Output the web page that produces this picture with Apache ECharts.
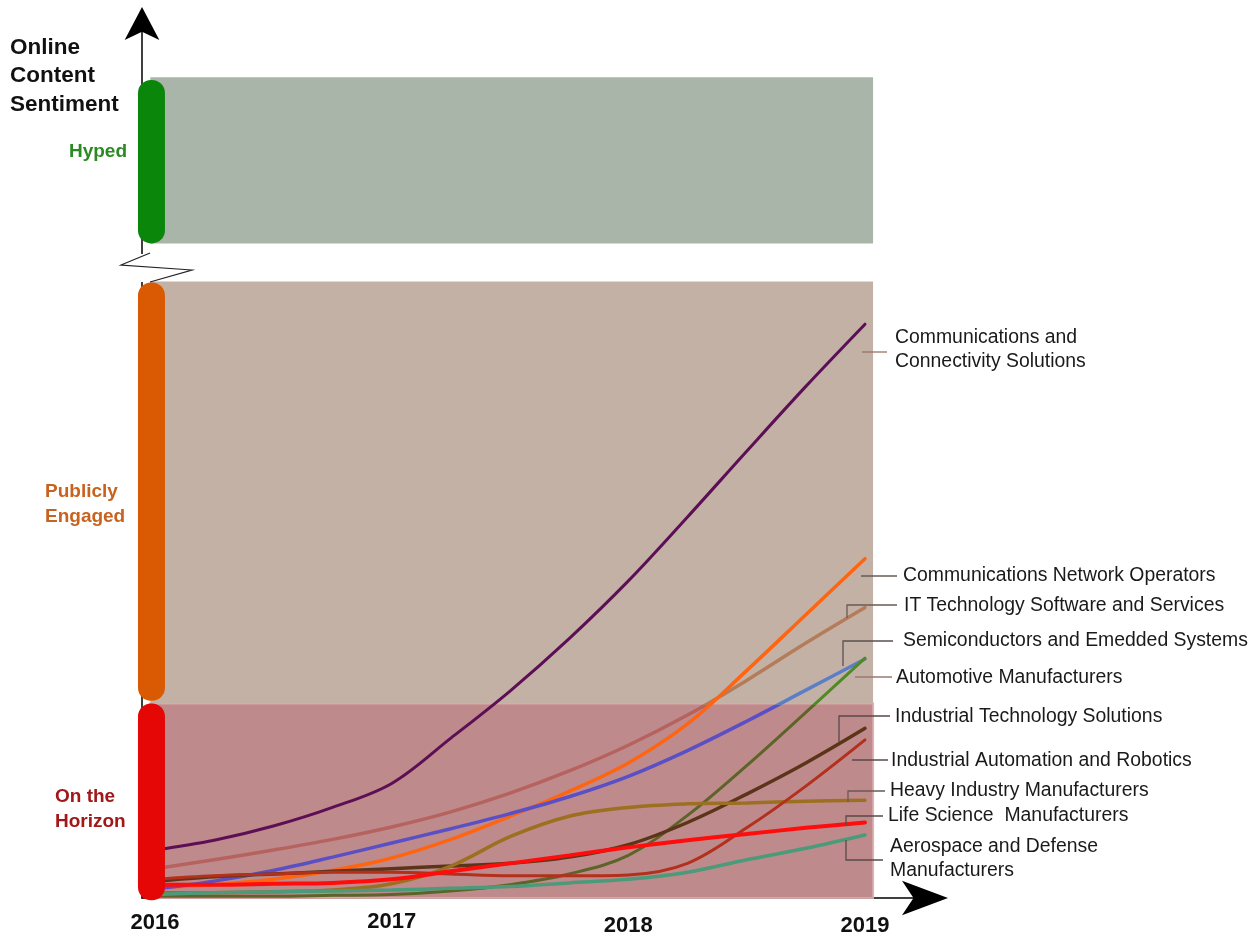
<!DOCTYPE html>
<html><head><meta charset="utf-8">
<script src="https://cdn.jsdelivr.net/npm/echarts@6/dist/echarts.min.js"></script>
<style>html,body{margin:0;padding:0;background:#fff}#c{width:1257px;height:937px}</style>
</head><body><div id="c"></div>
<script>
// ---- data ----
const years = [2016, 2016.25, 2016.5, 2016.75, 2017, 2017.25, 2017.5, 2017.75, 2018, 2018.25, 2018.5, 2018.75, 2019];
const tickYears = [2016, 2017, 2018, 2019];

const commConnectivity = [5.4, 6.5, 8.1, 10.2, 12.9, 18.0, 23.3, 29.2, 35.7, 42.9, 50.3, 57.6, 64.6];
const itSoftware      = [3.3, 4.3, 5.4, 6.6, 8.0, 9.7, 11.8, 14.3, 17.2, 20.6, 24.5, 28.7, 32.7];
const commNetwork     = [1.2, 1.5, 2.1, 3.1, 4.5, 6.6, 9.2, 12.0, 15.2, 19.6, 25.6, 31.9, 38.2];
const semiconductors  = [1.0, 1.9, 3.1, 4.6, 6.2, 7.8, 9.5, 11.4, 13.7, 16.6, 19.9, 23.4, 26.9];
const automotive      = [0.2, 0.2, 0.2, 0.3, 0.4, 0.8, 1.5, 2.7, 4.8, 9.3, 14.9, 20.9, 27.0];
const industrialTech  = [1.9, 2.4, 2.7, 3.0, 3.3, 3.6, 3.9, 4.6, 6.0, 8.5, 11.7, 15.2, 19.1];
const heavyIndustry   = [0.6, 0.6, 0.7, 0.9, 1.6, 3.6, 6.9, 9.2, 10.2, 10.6, 10.7, 10.9, 11.0];
const industrialAuto  = [2.1, 2.5, 2.7, 2.9, 2.9, 2.7, 2.5, 2.5, 2.6, 3.9, 7.9, 12.6, 17.8];
const aerospace       = [0.4, 0.6, 0.7, 0.8, 0.9, 1.1, 1.3, 1.7, 2.1, 2.9, 4.3, 5.6, 7.1];
const lifeScience     = [1.5, 1.5, 1.6, 1.7, 2.1, 3.0, 3.9, 4.8, 5.7, 6.5, 7.2, 7.9, 8.5];

const bandNames = ['On the Horizon', 'Publicly Engaged', 'Hyped'];
const bandLow   = [0, 21.9, 73.7];
const bandHigh  = [21.9, 69.4, 92.4];
const bandStart = 2015.98;
const bandEnd   = 2019.034;
const pillLow   = [-0.25, 22.2, 73.7];
const pillHigh  = [21.9, 69.3, 92.1];
const pillStart = 2015.928;
const pillEnd   = 2016.042;

const lineNames = [
  'Communications and Connectivity Solutions', 'IT Technology Software and Services',
  'Communications Network Operators', 'Semiconductors and Emedded Systems',
  'Automotive Manufacturers', 'Industrial Technology Solutions', 'Heavy Industry Manufacturers',
  'Industrial Automation and Robotics', 'Aerospace and Defense Manufacturers', 'Life Science  Manufacturers'
];
const lineValues = [commConnectivity, itSoftware, commNetwork, semiconductors, automotive,
  industrialTech, heavyIndustry, industrialAuto, aerospace, lifeScience];

// ---- layout / style ----
const W = 1257, H = 937;
const gridLeft = 142, gridTop = 24, gridBottomPx = 900, gridRightPx = 925;
const xMin = 2015.945, xMax = 2019.2535;
const yMin = 0, yMax = 98.4;
const FONT = 'Liberation Sans, Arial, Helvetica, sans-serif';

const bandColors = ['#bf8a8b', '#c4b1a6', '#a8b5a8'];
const bandStrokes = ['rgba(218,170,170,0.9)', null, null];
const pillColors = ['#e50606', '#d95a02', '#0a870a'];

const boundaryPx = gridTop + (yMax - bandHigh[0]) / (yMax - yMin) * (gridBottomPx - gridTop);
const boundaryFrac = boundaryPx / H;
function split(upper, lower) {
  return {type: 'linear', x: 0, y: 0, x2: 0, y2: H, global: true, colorStops: [
    {offset: 0, color: upper}, {offset: boundaryFrac, color: upper},
    {offset: boundaryFrac, color: lower}, {offset: 1, color: lower}]};
}
const lineColors = ['#5c0f55', split('#b47c58', '#b6625f'), '#ff6510', split('#5b7fc6', '#5a4fc4'),
  split('#4f8a25', '#5c6428'), '#5b3519', '#9c7020', '#b3301c', '#4b9a7a', '#ff0c0c'];
const lineWidths = [3, 3.5, 3.5, 3.5, 3, 3.5, 3.5, 3, 3.5, 4];

function rectRender(colors, radius, strokes) {
  return function (params, api) {
    const p0 = api.coord([api.value(0), api.value(3)]);
    const p1 = api.coord([api.value(1), api.value(2)]);
    const st = strokes && strokes[params.dataIndex];
    return {type: 'rect', shape: {x: p0[0], y: p0[1], width: p1[0] - p0[0], height: p1[1] - p0[1], r: radius},
      style: {fill: colors[params.dataIndex], stroke: st || null, lineWidth: st ? 2 : 0}};
  };
}

const series = [];
series.push({type: 'custom', name: 'bands', z: 1, clip: false, silent: true,
  renderItem: rectRender(bandColors, 0, bandStrokes), encode: {x: [0, 1], y: [2, 3]},
  data: bandNames.map((n, i) => [bandStart, bandEnd, bandLow[i], bandHigh[i]])});
lineNames.forEach((n, i) => {
  series.push({type: 'line', name: n, z: 2, smooth: 0.35, showSymbol: false, silent: true,
    lineStyle: {color: lineColors[i], width: lineWidths[i], cap: 'round'},
    data: years.map((y, k) => [y, lineValues[i][k]])});
});
series.push({type: 'custom', name: 'pills', z: 3, clip: false, silent: true,
  renderItem: rectRender(pillColors, 13), encode: {x: [0, 1], y: [2, 3]},
  data: bandNames.map((n, i) => [pillStart, pillEnd, pillLow[i], pillHigh[i]])});

const rightLabels = [
  {t: 'Communications and\nConnectivity Solutions', x: 895, y: 350, lead: [[862, 352], [887, 352]], lc: '#9a7068'},
  {t: 'Communications Network Operators', x: 903, y: 576, lead: [[861, 576], [897, 576]], lc: '#6a5a55'},
  {t: 'IT Technology Software and Services', x: 904, y: 606, lead: [[847, 618], [847, 605], [897, 605]], lc: '#6a5a55'},
  {t: 'Semiconductors and Emedded Systems', x: 903, y: 641, lead: [[843, 666], [843, 641], [893, 641]], lc: '#5a5050'},
  {t: 'Automotive Manufacturers', x: 896, y: 678, lead: [[855, 677], [892, 677]], lc: '#9a7a70'},
  {t: 'Industrial Technology Solutions', x: 895, y: 717, lead: [[839, 742], [839, 716], [890, 716]], lc: '#5a4a48'},
  {t: 'Industrial Automation and Robotics', x: 891, y: 761, lead: [[852, 760], [888, 760]], lc: '#5a4a48'},
  {t: 'Heavy Industry Manufacturers', x: 890, y: 791, lead: [[848, 802], [848, 791], [885, 791]], lc: '#6a5a55'},
  {t: 'Life Science  Manufacturers', x: 888, y: 816, lead: [[846, 825], [846, 816], [883, 816]], lc: '#5a4a48'},
  {t: 'Aerospace and Defense\nManufacturers', x: 890, y: 859, lead: [[846, 840], [846, 860], [883, 860]], lc: '#5a4a48'}
];

const graphic = [];
rightLabels.forEach(l => {
  graphic.push({type: 'polyline', z: 50, shape: {points: l.lead}, style: {stroke: l.lc, lineWidth: 1.3, fill: null}});
  graphic.push({type: 'text', z: 50, x: l.x, y: l.y, style: {text: l.t, font: '19.4px ' + FONT, fill: '#1a1a1a',
    verticalAlign: 'middle', lineHeight: 24}});
});
// left captions
graphic.push({type: 'text', z: 50, x: 10, y: 76, style: {text: 'Online\nContent\nSentiment', font: 'bold 22.5px ' + FONT,
  fill: '#111', verticalAlign: 'middle', lineHeight: 28.5}});
graphic.push({type: 'text', z: 50, x: 127, y: 152, style: {text: 'Hyped', font: 'bold 19px ' + FONT,
  fill: '#2b8a22', align: 'right', verticalAlign: 'middle'}});
graphic.push({type: 'text', z: 50, x: 45, y: 504.5, style: {text: 'Publicly\nEngaged', font: 'bold 19px ' + FONT,
  fill: '#c8621e', verticalAlign: 'middle', lineHeight: 25}});
graphic.push({type: 'text', z: 50, x: 55, y: 809.5, style: {text: 'On the\nHorizon', font: 'bold 19px ' + FONT,
  fill: '#a01818', verticalAlign: 'middle', lineHeight: 25}});
// axis break
graphic.push({type: 'rect', z: 40, shape: {x: 134, y: 254, width: 16, height: 28}, style: {fill: '#fff'}});
graphic.push({type: 'polyline', z: 41, shape: {points: [[150, 253], [121, 265], [192, 270], [150, 282]]},
  style: {stroke: '#222', lineWidth: 1.2, fill: null}});

const yearPad = {2016: 1, 2017: 0, 2018: 4, 2019: 4};
const rich = {};
tickYears.forEach(y => { rich['y' + y] = {fontSize: 22, fontWeight: 'bold', color: '#111', fontFamily: FONT, padding: [yearPad[y], 0, 0, 0]}; });

const chart = echarts.init(document.getElementById('c'), null, {renderer: 'canvas'});
chart.setOption({
  animation: false,
  backgroundColor: '#fff',
  grid: {left: gridLeft, top: gridTop, right: W - gridRightPx, bottom: H - gridBottomPx, containLabel: false},
  xAxis: {type: 'value', min: xMin, max: xMax,
    axisLine: {show: true, lineStyle: {color: '#000', width: 1.5}, symbol: ['none', 'arrow'],
      symbolSize: [26, 46], symbolOffset: [0, 23]},
    axisTick: {show: false}, splitLine: {show: false},
    axisLabel: {customValues: tickYears, margin: 13, verticalAlign: 'top',
      formatter: v => '{y' + v + '|' + v + '}', rich: rich}},
  yAxis: {type: 'value', min: yMin, max: yMax,
    axisLine: {show: true, lineStyle: {color: '#000', width: 1.5}, symbol: ['none', 'arrow'],
      symbolSize: [26, 33], symbolOffset: [0, 17]},
    axisTick: {show: false}, splitLine: {show: false}, axisLabel: {show: false}},
  series: series,
  graphic: graphic
});
</script></body></html>
